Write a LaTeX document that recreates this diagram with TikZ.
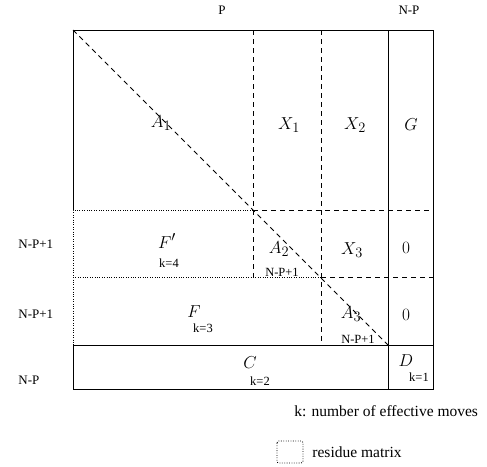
\documentclass[tikz,border=0pt]{standalone}
\usepackage{fontspec}
\setmainfont{Liberation Serif}
\usetikzlibrary{calc}

\begin{document}
\begin{tikzpicture}[x=1pt, y=-1pt, line width=0.9pt,
    blk/.style={inner sep=0pt, font=\fontsize{19}{19}\selectfont},
    moves/.style={inner sep=0pt, font=\fontsize{12.5}{12.5}\selectfont},
    dimlbl/.style={inner sep=0pt, font=\fontsize{13}{13}\selectfont},
    legend/.style={inner sep=0pt, anchor=west, font=\fontsize{15.5}{15.5}\selectfont},
    dashline/.style={dash pattern=on 5pt off 4pt},
    dotline/.style={dash pattern=on 0.8pt off 1.6pt}]
  \useasboundingbox (0,0) rectangle (487,466);
  % grid corners
  \coordinate (tl) at (73,30);
  \coordinate (tr) at (433,30);
  \coordinate (c1) at (253,30);
  \coordinate (c2) at (321,30);
  \coordinate (c3) at (388,30);
  \coordinate (r1l) at (73,210);
  \coordinate (r1a) at (253,210);
  \coordinate (r1r) at (433,210);
  \coordinate (r2l) at (73,277);
  \coordinate (r2a) at (253,277);
  \coordinate (r2b) at (321,277);
  \coordinate (r2r) at (433,277);
  \coordinate (r3l) at (73,345);
  \coordinate (r3b) at (321,345);
  \coordinate (r3c) at (388,345);
  \coordinate (r3r) at (433,345);
  \coordinate (bl) at (73,389);
  \coordinate (bc) at (388,389);
  \coordinate (br) at (433,389);
  % solid frame
  \draw (r1l) -- (tl) -- (tr) -- (br) -- (bl) -- (r3l) -- (r3r);
  \draw (c3) -- (bc);
  % dashed partitions
  \draw[dashline] (c1) -- (r2a);
  \draw[dashline] (c2) -- (r3b);
  \draw[dashline] (r1a) -- (r1r);
  \draw[dashline] (r2b) -- (r2r);
  \draw[dashline] (tl) -- (r3c);
  % dotted residue borders
  \draw[dotline] (r1a) -- (r1l) -- (r3l);
  \draw[dotline] (r2l) -- (r2b);

  % block labels
  \node[blk] (a1) at (161,123) {$A_1$};
  \node[blk] (x1) at (289,125) {$X_1$};
  \node[blk] (x2) at (355,125) {$X_2$};
  \node[blk] (g) at (411,125) {$G$};
  \node[blk] (fp) at (167,241) {$F'$};
  \node[moves] (k4) at (169,263) {k=4};
  \node[blk] (a2) at (279,249) {$A_2$};
  \node[moves] (a2n) at (282,272) {N-P+1};
  \node[blk] (x3) at (352,250) {$X_3$};
  \node[blk] (z1) at (406,248) {$0$};
  \node[blk] (f) at (194,312) {$F$};
  \node[moves] (k3) at (203,328) {k=3};
  \node[blk] (a3) at (351,314) {$A_3$};
  \node[moves] (a3n) at (358,339) {N-P+1};
  \node[blk] (z2) at (406,315) {$0$};
  \node[blk] (c) at (250,363) {$C$};
  \node[moves] (k2) at (260,381) {k=2};
  \node[blk] (d) at (406,361) {$D$};
  \node[moves] (k1) at (419,377) {k=1};

  % dimension labels
  \node[dimlbl] (p) at (222,10) {P};
  \node[dimlbl] (np) at (409,10) {N-P};
  \node[dimlbl, anchor=west] (h1) at (18,244) {N-P+1};
  \node[dimlbl, anchor=west] (h2) at (18,314) {N-P+1};
  \node[dimlbl, anchor=west] (h3) at (18,380) {N-P};

  % legend
  \node[legend] (klbl) at (294,411) {k: number of effective moves};
  \draw[dotline, rounded corners=2pt] (277,441) rectangle (303,463);
  \node[legend] (rlbl) at (312,452) {residue matrix};
\end{tikzpicture}
\end{document}
